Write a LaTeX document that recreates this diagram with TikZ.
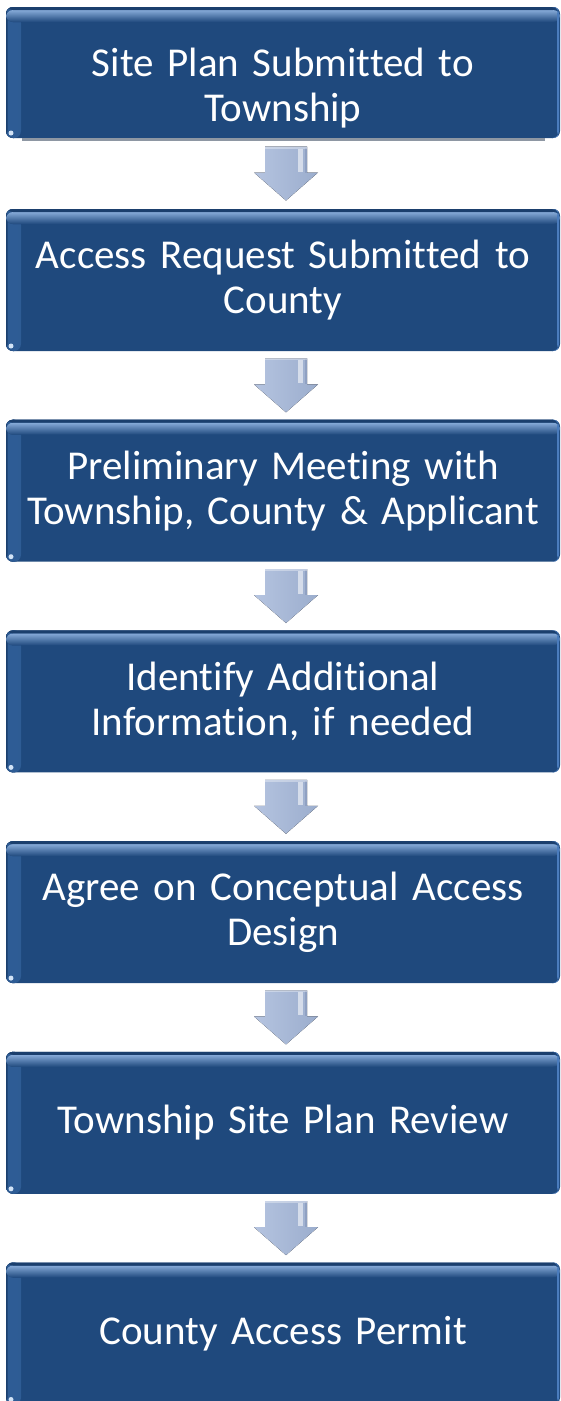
\documentclass[tikz,border=0pt]{standalone}
\usepackage{fontspec}
\setmainfont{Carlito}[Ligatures=NoCommon]
\usetikzlibrary{calc}
\definecolor{boxblue}{HTML}{1F497D}
\definecolor{boxedge}{HTML}{1B3F6D}
\definecolor{boxside}{HTML}{2E5C95}
\definecolor{hilite}{HTML}{86AAD8}
\definecolor{rightedge}{HTML}{4A7CBD}
\definecolor{glint}{HTML}{D2E3F6}
\definecolor{shadowgrey}{HTML}{8E97A3}
\definecolor{arrowlight}{HTML}{B5C4E0}
\definecolor{arrowmid}{HTML}{9BADCD}
\definecolor{arrowedge}{HTML}{8596B8}
\newcommand\drawflowarrow[2]{%
  \coordinate (m#1) at ($(#1.south)!0.5!(#2.north)+(3,0)$);
  \begin{scope}[shift={(m#1)}]
    \fill[left color=arrowlight, right color=arrowmid]
      (-21,27) -- (21,27) -- (21,1) -- (32,1) -- (0,-27) -- (-32,1) -- (-21,1) -- cycle;
    \fill[white, opacity=0.55] (12,25) rectangle (17,2);
    \fill[arrowedge, opacity=0.6] (18.5,26) rectangle (21,1);
    \fill[white, opacity=0.35] (-21,27) rectangle (21,25);
  \end{scope}
}
\begin{document}
\begin{tikzpicture}[x=1pt,y=1pt,
  stepbox/.style={rounded corners=7pt, fill=boxblue, minimum width=554pt,
    minimum height=142pt, inner sep=0pt, text width=550pt, align=center,
    text=white, font=\fontsize{41}{45}\selectfont,
    path picture={
      \fill[left color=boxside, right color=boxblue]
        (path picture bounding box.north west) rectangle
        ([xshift=15pt]path picture bounding box.south west);
      \fill[boxedge] (path picture bounding box.north west) rectangle
        ([xshift=1.5pt]path picture bounding box.south west);
      \fill[top color=hilite, bottom color=boxblue]
        ([yshift=-3pt]path picture bounding box.north west) rectangle
        ([yshift=-15pt]path picture bounding box.north east);
      \fill[boxedge] (path picture bounding box.north west) rectangle
        ([yshift=-3pt]path picture bounding box.north east);
      \fill[rightedge] ([xshift=-3pt]path picture bounding box.north east)
        rectangle ([xshift=-1pt]path picture bounding box.south east);
      \fill[glint] ([shift={(5pt,5pt)}]path picture bounding box.south west)
        circle (2.5pt);
    }}]
\useasboundingbox (0,0) rectangle (561,-1401);
\clip (0,0) rectangle (561,-1401);
\node[stepbox, minimum height=131pt, text depth=20pt] (b1) at (283,-72.5) {Site Plan Submitted to\\Township};
\node[stepbox] (b2) at (283,-280) {Access Request Submitted to\\County};
\node[stepbox] (b3) at (283,-490.7) {Preliminary Meeting with\\Township, County \& Applicant};
\node[stepbox] (b4) at (283,-701.4) {Identify Additional\\Information, if needed};
\node[stepbox] (b5) at (283,-912.1) {Agree on Conceptual Access\\Design};
\node[stepbox] (b6) at (283,-1122.8) {Township Site Plan Review};
\node[stepbox] (b7) at (283,-1333.5) {County Access Permit};
\fill[shadowgrey] ([xshift=16pt]b1.south west) rectangle ([xshift=-15pt,yshift=-2.5pt]b1.south east);
\drawflowarrow{b1}{b2}
\drawflowarrow{b2}{b3}
\drawflowarrow{b3}{b4}
\drawflowarrow{b4}{b5}
\drawflowarrow{b5}{b6}
\drawflowarrow{b6}{b7}
\end{tikzpicture}
\end{document}
